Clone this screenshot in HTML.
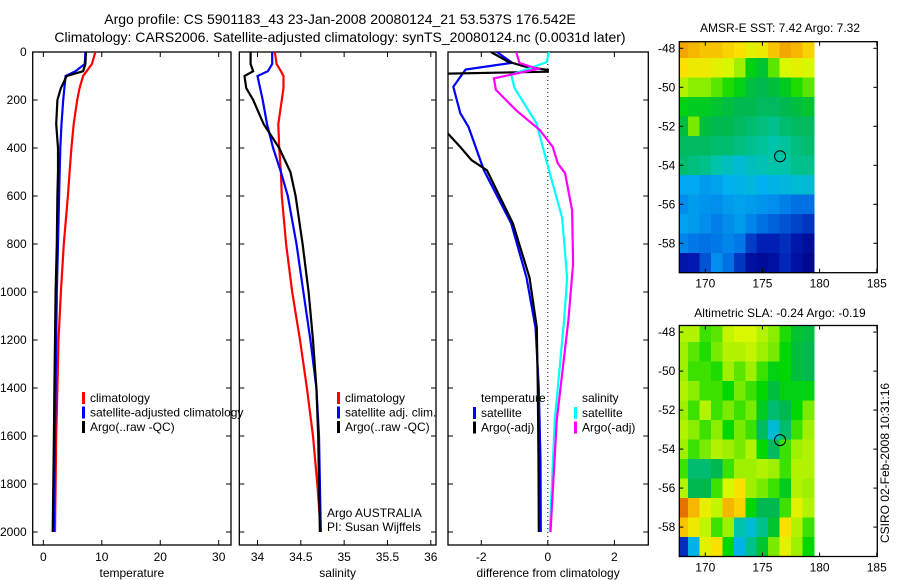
<!DOCTYPE html>
<html><head><meta charset="utf-8"><style>
html,body{margin:0;padding:0;background:#fff;}
svg{display:block;font-family:"Liberation Sans",sans-serif;}
text{fill:#000;}
</style></head><body>
<svg id="fig" width="900" height="580" viewBox="0 0 900 580" xmlns="http://www.w3.org/2000/svg">
<text x="340" y="24" font-size="14" text-anchor="middle">Argo profile: CS 5901183_43 23-Jan-2008 20080124_21 53.537S 176.542E</text>
<text x="340" y="42" font-size="14" text-anchor="middle">Climatology: CARS2006. Satellite-adjusted climatology: synTS_20080124.nc (0.0031d later)</text>
<text x="780" y="32" font-size="12" text-anchor="middle">AMSR-E SST: 7.42 Argo: 7.32</text>
<text x="780" y="317" font-size="12" text-anchor="middle">Altimetric SLA: -0.24 Argo: -0.19</text>
<text transform="translate(889,463) rotate(-90)" font-size="12" text-anchor="middle">CSIRO 02-Feb-2008 10:31:16</text>
<g id="plots"></g>
</svg>
<script>
// ---- profile data ----
const depths = [0,50,80,100,150,200,300,400,500,600,800,1000,1200,1400,1600,1800,2000];
const tempClim = [8.9,8.3,7.4,6.8,6.2,5.8,5.2,4.8,4.5,4.2,3.5,3.0,2.6,2.4,2.2,2.1,2.0];
const tempSat  = [7.2,7.1,5.5,3.8,3.6,3.4,3.1,2.9,2.8,2.7,2.5,2.3,2.2,2.1,2.0,1.9,1.8];
const tempArgo = [7.3,7.2,6.8,4.0,3.0,2.4,2.2,2.5,2.5,2.4,2.3,2.1,2.0,1.9,1.8,1.7,1.6];
const salClim = [34.20,34.22,34.27,34.30,34.30,34.28,34.24,34.25,34.27,34.28,34.33,34.40,34.49,34.57,34.64,34.69,34.73];
const salSat  = [34.17,34.17,34.12,34.00,34.03,34.06,34.11,34.18,34.27,34.35,34.45,34.53,34.61,34.68,34.71,34.72,34.73];
const salArgo = [33.92,33.92,33.95,33.85,33.87,33.95,34.07,34.25,34.38,34.44,34.52,34.59,34.64,34.68,34.70,34.71,34.72];
const tSatDiffDepth = [0,45,73,145,255,313,493,714,940,1148,1400,1700,2000];
const tSatDiff = [-1.53,-1.07,-2.47,-2.84,-2.63,-2.38,-1.92,-1.10,-0.64,-0.37,-0.27,-0.22,-0.21];
const tArgoDiffDepth = [0,40,60,75,82,90,108,325,396,451,493,714,940,1148,1400,1700,2000];
const tArgoDiff = [-1.71,-1.2,-0.7,0.0,0.0,-3.0,-3.3,-3.1,-2.63,-2.29,-1.83,-1.05,-0.55,-0.33,-0.3,-0.28,-0.27];
const sSatDiffDepth = [0,42,95,150,297,505,690,940,1117,1533,2000];
const sSatDiff = [0.03,-0.03,-1.1,-1.0,-0.34,0.06,0.43,0.58,0.49,0.21,0.06];
const sArgoDiffDepth = [0,46,70,110,158,243,325,396,464,505,660,883,1117,1533,2000];
const sArgoDiff = [-0.95,-0.85,-0.3,-1.62,-1.56,-0.95,-0.24,0.15,0.30,0.52,0.73,0.76,0.62,0.27,0.08];
const depthTicks = [0,200,400,600,800,1000,1200,1400,1600,1800,2000];
const tempTicks = [0,10,20,30];
const salTicks = [34,34.5,35,35.5,36];
const salTickLabels = ["34","34.5","35","35.5","36"];
const diffTicks = [-2,0,2];
// ---- map data (rows lat -48..-59, cols lon 168..179) ----
const mapLons = [168,169,170,171,172,173,174,175,176,177,178,179];
const mapLats = [-48,-49,-50,-51,-52,-53,-54,-55,-56,-57,-58,-59];
const sstGrid = [
[.74,.72,.70,.70,.68,.66,.62,.64,.70,.74,.72,.68],
[.66,.64,.64,.62,.60,.57,.50,.48,.54,.60,.62,.60],
[.58,.56,.56,.54,.52,.50,.47,.46,.47,.49,.52,.54],
[.50,.49,.49,.48,.47,.46,.46,.45,.45,.46,.47,.48],
[.47,.55,.47,.46,.46,.45,.44,.43,.42,.44,.45,.45],
[.45,.45,.45,.44,.44,.43,.42,.41,.40,.41,.43,.44],
[.44,.43,.42,.40,.38,.36,.38,.39,.40,.40,.42,.42],
[.32,.32,.30,.31,.33,.34,.35,.33,.34,.35,.36,.36],
[.28,.30,.29,.28,.30,.31,.30,.29,.28,.26,.24,.24],
[.31,.30,.28,.26,.28,.30,.27,.24,.22,.20,.18,.16],
[.27,.25,.24,.25,.27,.25,.17,.13,.13,.15,.11,.07],
[.10,.12,.20,.28,.24,.16,.08,.06,.08,.14,.08,.04]];
const slaGrid = [
[.58,.58,.53,.54,.59,.60,.60,.58,.56,.52,.48,.47],
[.57,.54,.52,.55,.58,.58,.59,.57,.55,.51,.47,.46],
[.57,.53,.53,.52,.57,.54,.57,.53,.50,.51,.47,.46],
[.58,.56,.53,.53,.51,.55,.53,.51,.47,.50,.50,.50],
[.57,.53,.58,.53,.55,.53,.55,.49,.44,.46,.51,.55],
[.58,.56,.53,.56,.51,.55,.53,.45,.36,.44,.53,.57],
[.57,.53,.55,.58,.57,.55,.58,.51,.45,.53,.57,.58],
[.53,.44,.44,.46,.53,.57,.57,.58,.57,.53,.58,.58],
[.58,.46,.46,.53,.60,.66,.57,.55,.53,.49,.58,.57],
[.80,.72,.63,.59,.72,.68,.51,.46,.46,.53,.62,.58],
[.70,.64,.59,.53,.57,.40,.36,.42,.48,.66,.58,.53],
[.15,.34,.62,.66,.51,.34,.42,.48,.55,.62,.57,.51]];
const argoLon = 176.542, argoLat = -53.537;
const mapLonTicks = [170,175,180,185];
const mapLatTicks = [-48,-50,-52,-54,-56,-58];

const NS = "http://www.w3.org/2000/svg";
const root = document.getElementById('plots');
function el(tag, attrs, parent){ const e=document.createElementNS(NS,tag); for(const k in attrs) e.setAttribute(k,attrs[k]); (parent||root).appendChild(e); return e; }
function txt(x,y,s,anchor,size,parent){ const t=el('text',{x:x,y:y,'font-size':size||12,'text-anchor':anchor||'middle'},parent); t.textContent=s; return t; }

const Y0=52, YS=0.24;
function yD(d){ return Y0 + d*YS; }

function panel(name, x0, x1, xv0, xv1, ticks, tickLabels, xlabel, showY){
  const g = el('g',{});
  
  
  const sx = v => x0 + (v-xv0)/(xv1-xv0)*(x1-x0);
  const top=Y0, bot=545;
  const cid = name+'-clip';
  const cp = el('clipPath',{id:cid},g); el('rect',{x:x0,y:top,width:x1-x0,height:bot-top},cp);
  const frame = el('rect',{x:x0,y:top,width:x1-x0,height:bot-top,fill:'none',stroke:'#000','stroke-width':1.3},g);
  
  
  depthTicks.forEach(d=>{
    const y=yD(d);
    el('line',{x1:x0,y1:y,x2:x0+5,y2:y,stroke:'#000'},g);
    el('line',{x1:x1-5,y1:y,x2:x1,y2:y,stroke:'#000'},g);
    if(showY){ const t=txt(x0-6,y+4,String(d),'end',12,g);
      
       }
  });
  ticks.forEach((v,i)=>{
    const x=sx(v);
    el('line',{x1:x,y1:bot,x2:x,y2:bot-5,stroke:'#000'},g);
    el('line',{x1:x,y1:top,x2:x,y2:top+5,stroke:'#000'},g);
    const t=txt(x,561,tickLabels[i],'middle',12,g);
    
    
  });
  const xl=txt((x0+x1)/2,577,xlabel,'middle',12,g);
  
  
  const lines = el('g',{'clip-path':'url(#'+cid+')'},g);
  return {g, sx, lines};
}
function series(p, name, ds, vs, color){
  const pts = ds.map((d,i)=>p.sx(vs[i]).toFixed(1)+','+yD(d).toFixed(1)).join(' ');
  const pl = el('polyline',{points:pts,fill:'none',stroke:color,'stroke-width':2.2,'stroke-linejoin':'miter'},p.lines);
  
  
}
function legend(g, x, y, items){
  items.forEach((it,i)=>{
    const yy=y+i*14.5;
    el('rect',{x:x,y:yy-9,width:3,height:12,fill:it[1]},g);
    const t=txt(x+8,yy+1,it[0],'start',12,g);
    
    
  });
}

const p1 = panel('temperature-panel', 32.7, 231, -1.82, 32.1, tempTicks, tempTicks.map(String), 'temperature', true);
series(p1,'temp-climatology-line',depths,tempClim,'#ff0000');
series(p1,'temp-satellite-line',depths,tempSat,'#0000ff');
series(p1,'temp-argo-line',depths,tempArgo,'#000000');
legend(p1.g, 82, 401, [['climatology','#ff0000'],['satellite-adjusted climatology','#0000ff'],['Argo(..raw -QC)','#000000']]);

const p2 = panel('salinity-panel', 239.3, 436, 33.79, 36.06, salTicks, salTickLabels, 'salinity', false);
series(p2,'sal-climatology-line',depths,salClim,'#ff0000');
series(p2,'sal-satellite-line',depths,salSat,'#0000ff');
series(p2,'sal-argo-line',depths,salArgo,'#000000');
legend(p2.g, 337, 401, [['climatology','#ff0000'],['satellite adj. clim.','#0000ff'],['Argo(..raw -QC)','#000000']]);
const a1=txt(327,517,'Argo AUSTRALIA','start',12,p2.g);  
const a2=txt(327,531,'PI: Susan Wijffels','start',12,p2.g);  

const p3 = panel('difference-panel', 448, 648.3, -3.0, 3.02, diffTicks, diffTicks.map(String), 'difference from climatology', false);
el('line',{x1:p3.sx(0),y1:Y0,x2:p3.sx(0),y2:545,stroke:'#000','stroke-dasharray':'1,3'},p3.lines);
series(p3,'tdiff-satellite-line',tSatDiffDepth,tSatDiff,'#0000ff');
series(p3,'tdiff-argo-line',tArgoDiffDepth,tArgoDiff,'#000000');
series(p3,'sdiff-satellite-line',sSatDiffDepth,sSatDiff,'#00ffff');
series(p3,'sdiff-argo-line',sArgoDiffDepth,sArgoDiff,'#ff00ff');
const lt=txt(481,402,'temperature','start',12,p3.g);  
const ls=txt(582,402,'salinity','start',12,p3.g);  
legend(p3.g, 473, 416, [['satellite','#0000ff'],['Argo(-adj)','#000000']]);
legend(p3.g, 574, 416, [['satellite','#00ffff'],['Argo(-adj)','#ff00ff']]);

// ---- maps ----
const stops = [[0,[0,0,128]],[0.12,[0,24,176]],[0.25,[0,120,232]],[0.33,[0,176,240]],[0.40,[0,196,170]],[0.46,[0,184,80]],[0.51,[0,215,0]],[0.55,[120,235,0]],[0.60,[215,248,0]],[0.66,[250,225,0]],[0.73,[245,175,0]],[0.82,[224,96,0]],[0.92,[176,32,0]],[1,[128,0,0]]];
function cmap(v){
  v=Math.max(0,Math.min(1,v));
  for(let i=1;i<stops.length;i++){ if(v<=stops[i][0]){ const a=stops[i-1],b=stops[i]; const f=(v-a[0])/(b[0]-a[0]);
    const c=a[1].map((x,k)=>Math.round(x+(b[1][k]-x)*f)); return 'rgb('+c.join(',')+')'; } }
  return 'rgb(128,0,0)';
}
function map(name, top, grid){
  const g = el('g',{});
  
  
  const L=679.3, R=877.3, B=top+231;
  const sx = lon => 705.3 + (lon-170)*11.43;
  const sy = lat => (top+6.6) + (-48-lat)*19.5;
  const cid=name+'-clip';
  const cp=el('clipPath',{id:cid},g); el('rect',{x:L,y:top,width:sx(180)-L,height:B-top},cp);
  const cells=el('g',{'clip-path':'url(#'+cid+')','shape-rendering':'crispEdges'},g);
  grid.forEach((row,r)=>row.forEach((v,c)=>{
    const x=sx(mapLons[c]-0.5), y=sy(mapLats[r]+0.5);
    const rc=el('rect',{x:x.toFixed(1),y:y.toFixed(1),width:12,height:20,fill:cmap(v)},cells);
    
    
  }));
  const ring=el('circle',{cx:sx(argoLon),cy:sy(argoLat),r:5.5,fill:'none',stroke:'#000','stroke-width':1},g);
  
  
  el('rect',{x:L,y:top,width:R-L,height:B-top,fill:'none',stroke:'#000','stroke-width':1.3},g);
  mapLonTicks.forEach(lon=>{ const x=sx(lon);
    el('line',{x1:x,y1:B,x2:x,y2:B-4,stroke:'#000'},g); el('line',{x1:x,y1:top,x2:x,y2:top+4,stroke:'#000'},g);
    const t=txt(x,B+15,String(lon),'middle',12,g);   });
  mapLatTicks.forEach(lat=>{ const y=sy(lat);
    el('line',{x1:L,y1:y,x2:L+4,y2:y,stroke:'#000'},g); el('line',{x1:R-4,y1:y,x2:R,y2:y,stroke:'#000'},g);
    const t=txt(L-4,y+4,String(lat),'end',12,g);   });
}
map('sst-map', 41.7, sstGrid);
map('sla-map', 325.5, slaGrid);
</script>
</body></html>
